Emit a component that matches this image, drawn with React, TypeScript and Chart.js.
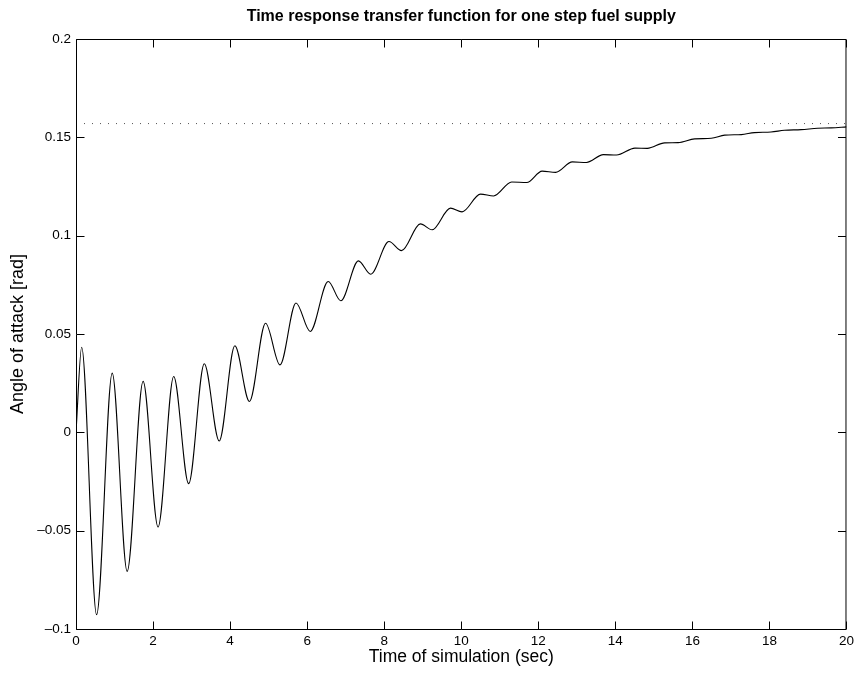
import { useEffect, useRef } from "react";
import { Chart, registerables } from "chart.js";

Chart.register(...registerables);

// ---- data ----
const timeSec = [
  0, 0.147, 0.535, 0.94, 1.328, 1.742, 2.13, 2.536, 2.924, 3.33, 3.717, 4.123,
  4.502, 4.92, 5.296, 5.71, 6.08, 6.546, 6.874, 7.33, 7.65, 8.124, 8.45, 8.94,
  9.245, 9.72, 10.02, 10.5, 10.84, 11.31, 11.7, 12.1, 12.45, 12.885, 13.25,
  13.69, 14.03, 14.51, 14.83, 15.28, 15.63, 16.06, 16.49, 16.84, 17.27, 17.61,
  18.04, 18.39, 18.82, 19.25, 19.6, 20,
];
const angleRad = [
  0, 0.0433, -0.0927, 0.0301, -0.0707, 0.0259, -0.0481, 0.0284, -0.0261,
  0.0349, -0.0044, 0.044, 0.0157, 0.0555, 0.0343, 0.0658, 0.0513, 0.0767,
  0.0669, 0.0872, 0.0804, 0.097, 0.0924, 0.106, 0.103, 0.114, 0.1121, 0.1211,
  0.1202, 0.1273, 0.127, 0.1328, 0.1322, 0.1375, 0.1372, 0.1412, 0.141, 0.1445,
  0.1444, 0.1472, 0.1473, 0.1492, 0.1495, 0.1511, 0.1514, 0.1524, 0.1527,
  0.1536, 0.1539, 0.1546, 0.1548, 0.1553,
];
const steadyStateRad = 0.157;
const steadyStateTimes = [0, 20];

const xTickValues = [0, 2, 4, 6, 8, 10, 12, 14, 16, 18, 20];
const xTickLabels = ["0", "2", "4", "6", "8", "10", "12", "14", "16", "18", "20"];
const yTickValues = [-0.1, -0.05, 0, 0.05, 0.1, 0.15, 0.2];
const yTickLabels = ["–0.1", "–0.05", "0", "0.05", "0.1", "0.15", "0.2"];

const titleText = "Time response transfer function for one step fuel supply";
const xTitleText = "Time of simulation (sec)";
const yTitleText = "Angle of attack [rad]";

const FONT = "'Liberation Sans', Arial, Helvetica, sans-serif";

const boxPlugin = {
  id: "matlabBox",
  afterDraw(chart: any) {
    const { ctx, chartArea } = chart;
    const { left, right, top, bottom } = chartArea;
    const xs = chart.scales.x;
    const ys = chart.scales.y;
    const L = left + 0.5;
    const R = right - 0.5;
    const T = top + 0.5;
    const B = bottom + 0.5;
    const tl = 8;
    ctx.save();
    ctx.strokeStyle = "#000";
    ctx.lineWidth = 1;
    ctx.beginPath();
    ctx.rect(L, T, R - L, B - T);
    xs.ticks.forEach((t: any) => {
      const px = Math.round(xs.getPixelForValue(t.value)) + 0.5;
      ctx.moveTo(px, B);
      ctx.lineTo(px, B - tl);
      ctx.moveTo(px, T);
      ctx.lineTo(px, T + tl);
    });
    ys.ticks.forEach((t: any) => {
      const py = Math.round(ys.getPixelForValue(t.value)) + 0.5;
      ctx.moveTo(L, py);
      ctx.lineTo(L + tl, py);
      ctx.moveTo(R, py);
      ctx.lineTo(R - tl, py);
    });
    ctx.stroke();
    ctx.restore();
  },
};

export default function App() {
  const ref = useRef<HTMLCanvasElement | null>(null);

  useEffect(() => {
    if (!ref.current) return;
    Chart.defaults.color = "#000";
    const chart = new Chart(ref.current, {
      type: "line",
      data: {
        datasets: [
          {
            label: "response",
            data: timeSec.map((t, i) => ({ x: t, y: angleRad[i] })),
            borderColor: "#000",
            borderWidth: 1.1,
            pointRadius: 0,
            fill: false,
            cubicInterpolationMode: "monotone",
          },
          {
            label: "steady state",
            data: steadyStateTimes.map((t) => ({ x: t, y: steadyStateRad })),
            borderColor: "#555",
            borderWidth: 1,
            borderDash: [1, 7],
            pointRadius: 0,
            fill: false,
          },
        ],
      },
      options: {
        responsive: false,
        animation: false,
        devicePixelRatio: 1,
        layout: { padding: { left: 0, right: 9, top: 0, bottom: 0 } },
        plugins: {
          legend: { display: false },
          tooltip: { enabled: false },
          title: {
            display: true,
            text: titleText,
            fullSize: false,
            color: "#000",
            font: { family: FONT, size: 16, weight: "bold" },
            padding: { top: 6.5, bottom: 13.3 },
          },
        },
        scales: {
          x: {
            type: "linear",
            min: 0,
            max: 20,
            grid: { display: false, drawTicks: false },
            border: { display: false },
            afterBuildTicks: (s: any) => {
              s.ticks = xTickValues.map((v) => ({ value: v }));
            },
            afterFit: (s: any) => {
              s.height = 48;
            },
            ticks: {
              autoSkip: false,
              maxRotation: 0,
              padding: 4,
              color: "#000",
              font: { family: FONT, size: 13.5 },
              callback: (_v: any, i: number) => xTickLabels[i],
            },
            title: {
              display: true,
              text: xTitleText,
              color: "#000",
              font: { family: FONT, size: 17.5 },
              padding: { top: 0, bottom: 9.5 },
            },
          },
          y: {
            type: "linear",
            min: -0.1,
            max: 0.2,
            grid: { display: false, drawTicks: false },
            border: { display: false },
            afterBuildTicks: (s: any) => {
              s.ticks = yTickValues.map((v) => ({ value: v }));
            },
            afterFit: (s: any) => {
              s.width = 76;
            },
            ticks: {
              autoSkip: false,
              padding: 5,
              color: "#000",
              font: { family: FONT, size: 13.5 },
              callback: (_v: any, i: number) => yTickLabels[i],
            },
            title: {
              display: true,
              text: yTitleText,
              color: "#000",
              font: { family: FONT, size: 18 },
              padding: { top: 7, bottom: 0 },
            },
          },
        },
      } as any,
      plugins: [boxPlugin],
    });
    return () => chart.destroy();
  }, []);

  return (
    <div
      style={{
        position: "absolute",
        left: 0,
        top: 0,
        width: 858,
        height: 677,
        background: "#fff",
      }}
    >
      <canvas ref={ref} width={858} height={677} style={{ display: "block" }} />
    </div>
  );
}
